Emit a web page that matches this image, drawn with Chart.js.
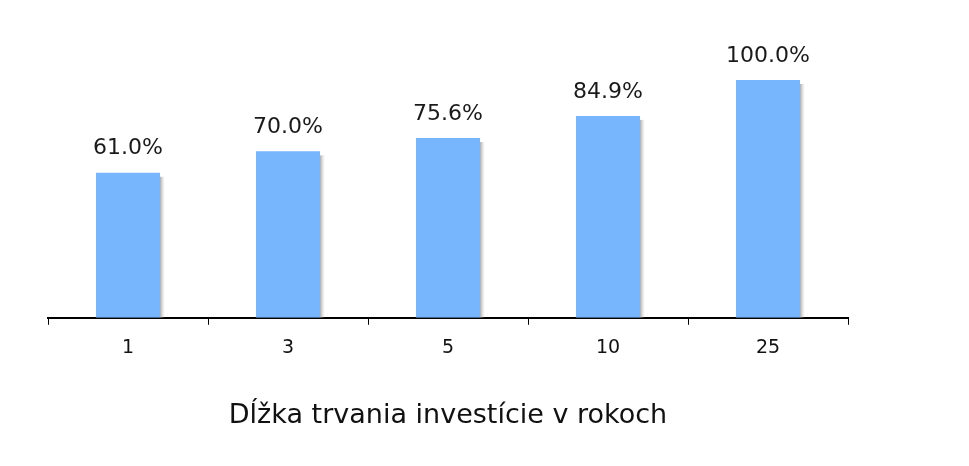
<!DOCTYPE html>
<html>
<head>
<meta charset="utf-8">
<script src="https://cdn.jsdelivr.net/npm/chart.js@4"></script>
<style>
body { margin: 0; background: #fff; }
#wrap { width: 969px; height: 466px; }
</style>
</head>
<body>
<div id="wrap"><canvas id="BarChart"></canvas></div>
<script>
const categories = ["1", "3", "5", "10", "25"];
const values = [61.0, 70.0, 75.6, 84.9, 100.0];
const axis_title = "Dĺžka trvania investície v rokoch";

// soft shadow on the right side of each bar, plus value labels above
const bar_extras = {
	id: "bar_extras",
	beforeDatasetsDraw(chart) {
		const ctx = chart.ctx;
		chart.getDatasetMeta(0).data.forEach(bar => {
			const right = bar.x + bar.width / 2;
			const grad = ctx.createLinearGradient(right, 0, right + 5, 0);
			grad.addColorStop(0, "rgba(150,150,150,0.8)");
			grad.addColorStop(1, "rgba(200,200,200,0)");
			ctx.fillStyle = grad;
			ctx.fillRect(right, bar.y + 4, 5, bar.base - bar.y - 4);
		});
	},
	afterDatasetsDraw(chart) {
		const ctx = chart.ctx;
		ctx.save();
		ctx.font = "22px 'DejaVu Sans'";
		ctx.fillStyle = "#1a1a1a";
		ctx.textAlign = "center";
		ctx.textBaseline = "bottom";
		chart.getDatasetMeta(0).data.forEach((bar, i) => {
			ctx.fillText(values[i].toFixed(1) + "%", bar.x, bar.y - 13);
		});
		ctx.restore();
	}
};

new Chart(document.getElementById("BarChart").getContext("2d"), {
	type: "bar",
	data: {
		labels: categories,
		datasets: [{
			data: values,
			backgroundColor: "#77b6fd",
			barPercentage: 0.4,
			categoryPercentage: 1.0
		}]
	},
	options: {
		responsive: true,
		maintainAspectRatio: false,
		animation: false,
		layout: { padding: { left: 48, right: 121, top: 80, bottom: 30 } },
		plugins: { legend: { display: false }, tooltip: { enabled: false } },
		scales: {
			x: {
				grid: { display: true, drawOnChartArea: false, tickLength: 7, color: "#000", offset: true },
				border: { color: "#000", width: 2 },
				ticks: { color: "#111", font: { family: "DejaVu Sans", size: 19 }, padding: 12 },
				title: {
					display: true,
					text: axis_title,
					color: "#111",
					font: { family: "DejaVu Sans", size: 27 },
					padding: { top: 28 }
				}
			},
			y: {
				display: false,
				min: 0,
				max: 100
			}
		}
	},
	plugins: [bar_extras]
});
</script>
</body>
</html>
